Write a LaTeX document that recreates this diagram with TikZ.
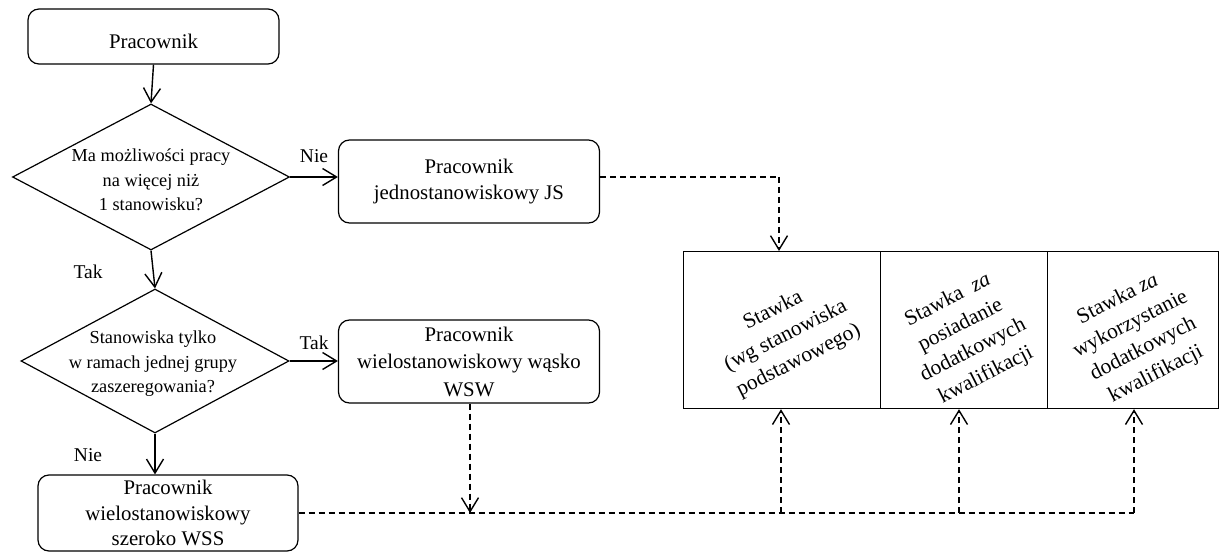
\documentclass[tikz,border=0pt]{standalone}
\usepackage{fontspec}
\setmainfont{Liberation Serif}
\usetikzlibrary{arrows.meta,shapes.geometric}
\begin{document}
\begin{tikzpicture}[x=1pt,y=-1pt,
  box/.style={draw,line width=1.2pt,rounded corners=11pt,inner sep=0pt,align=center,font=\fontsize{20.8}{26}\selectfont},
  dia/.style={draw,line width=1.2pt,shape=diamond,inner sep=0pt},
  diatext/.style={align=center,inner sep=0pt,font=\fontsize{18.3}{24.5}\selectfont},
  lbl/.style={inner sep=0pt,font=\fontsize{19.5}{22}\selectfont},
  cell/.style={draw,line width=1.2pt,inner sep=0pt},
  rot/.style={rotate=27,align=center,inner sep=0pt,font=\fontsize{21.5}{28}\selectfont},
  arr/.style={line width=1.4pt,-{Straight Barb[length=14pt,width=17pt,line width=1.4pt]}},
  darr/.style={line width=1.4pt,dash pattern=on 6pt off 4pt,-{Straight Barb[length=14pt,width=17pt,line width=1.4pt]}},
  dline/.style={line width=1.4pt,dash pattern=on 6pt off 4pt}]
\useasboundingbox (0,0) rectangle (1220,553);

% nodes
\node[box,minimum width=251pt,minimum height=55pt] (p) at (153.5,36.5) {};
\node[inner sep=0pt,font=\fontsize{20.8}{26}\selectfont] (pt) at (153.5,41) {Pracownik};
\node[dia,minimum width=277pt,minimum height=146pt] (d1) at (151,177) {};
\node[diatext] (d1t) at (151,180) {Ma możliwości pracy\\na więcej niż\\1 stanowisku?};
\node[box,minimum width=261pt,minimum height=83pt] (js) at (469,181.5) {Pracownik\\jednostanowiskowy JS};
\node[dia,minimum width=268pt,minimum height=144pt] (d2) at (155,361) {};
\node[diatext] (d2t) at (153,364) {Stanowiska tylko\\w ramach jednej grupy\\zaszeregowania?};
\node[box,minimum width=261pt,minimum height=83pt,font=\fontsize{20.8}{27.5}\selectfont] (wsw) at (469,361.5) {Pracownik\\wielostanowiskowy wąsko\\WSW};
\node[box,minimum width=260pt,minimum height=76pt,font=\fontsize{20.8}{25.5}\selectfont] (wss) at (168,513) {Pracownik\\wielostanowiskowy\\szeroko WSS};

% labels
\node[lbl] (lnie1) at (314,156) {Nie};
\node[lbl] (ltak1) at (88,272) {Tak};
\node[lbl] (ltak2) at (314,343) {Tak};
\node[lbl] (lnie2) at (88,455) {Nie};

% table of rates
\node[cell,minimum width=197pt,minimum height=157pt,anchor=north west] (c1) at (683,251) {};
\node[cell,minimum width=167pt,minimum height=157pt,anchor=north west] (c2) at (880,251) {};
\node[cell,minimum width=171pt,minimum height=157pt,anchor=north west] (c3) at (1047,251) {};
\node[rot] (t1) at (786,336) {Stawka\\(wg stanowiska\\podstawowego)};
\node[rot] (t2) at (967,338) {Stawka\ \ \textit{za}\\posiadanie\\dodatkowych\\kwalifikacji};
\node[rot] (t3) at (1137,337) {Stawka \textit{za}\\wykorzystanie\\dodatkowych\\kwalifikacji};

% solid connectors
\draw[arr] (p.south) -- (d1.north);
\draw[arr] (d1.east) -- (js.west |- d1.east);
\draw[arr] (d1.south) -- (d2.north);
\draw[arr] (d2.east) -- (wsw.west |- d2.east);
\draw[arr] (d2.south) -- (wss.north -| d2.south);

% dashed connectors
\coordinate (jsc) at (779,177);
\coordinate (wswc) at (470,513);
\coordinate (j1) at (781,513);
\coordinate (j2) at (959,513);
\coordinate (j3) at (1134,513);
\draw[dline] (js.east |- jsc) -- (jsc);
\draw[darr] (jsc) -- (jsc |- c1.north);
\draw[darr] (wsw.south -| wswc) -- (wswc);
\draw[dline] (wss.east |- j1) -- (j3);
\draw[darr] (j1) -- (j1 |- c1.south);
\draw[darr] (j2) -- (j2 |- c2.south);
\draw[darr] (j3) -- (j3 |- c3.south);
\end{tikzpicture}
\end{document}
